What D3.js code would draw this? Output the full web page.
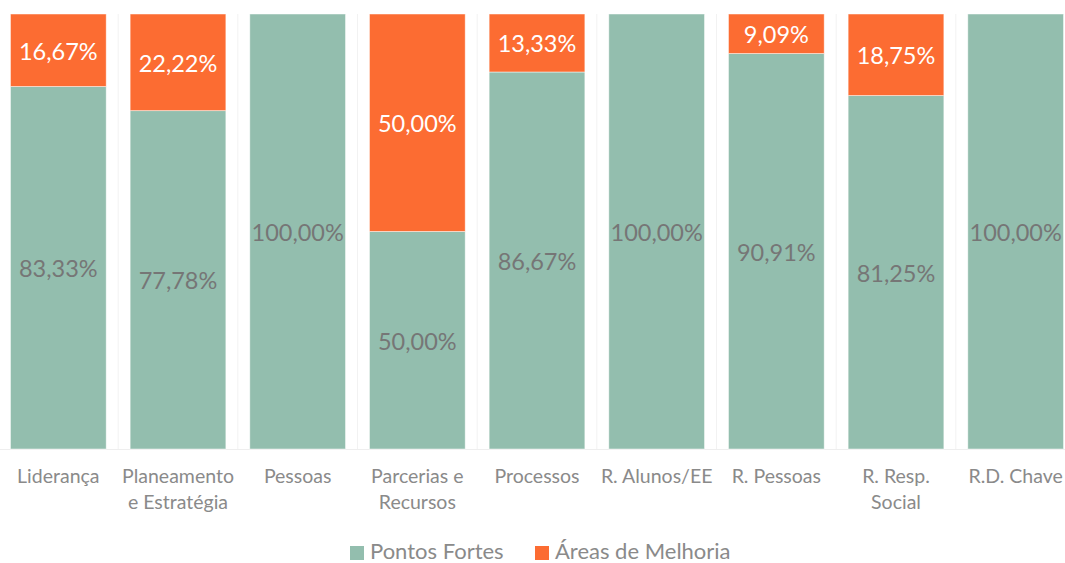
<!DOCTYPE html>
<html><head><meta charset="utf-8">
<script src="https://cdn.jsdelivr.net/npm/d3@7"></script>
<style>body{margin:0;background:#fff}svg{display:block}</style>
</head><body>
<svg id="c" width="1065" height="563"></svg>
<script>
const categories = [["Liderança"],["Planeamento","e Estratégia"],["Pessoas"],["Parcerias e","Recursos"],["Processos"],["R. Alunos/EE"],["R. Pessoas"],["R. Resp.","Social"],["R.D. Chave"]];
const pontosFortes = [83.33, 77.78, 100.00, 50.00, 86.67, 100.00, 90.91, 81.25, 100.00];
const areasMelhoria = [16.67, 22.22, 0, 50.00, 13.33, 0, 9.09, 18.75, 0];
const seriesNames = ["Pontos Fortes", "Áreas de Melhoria"];
const colors = ["#93BEAE", "#FC6C32"];
const labelColors = ["#767676", "#ffffff"];

const svg = d3.select("#c");
const font = "Lato, 'Open Sans', sans-serif";
const x = d3.scaleBand().domain(d3.range(categories.length)).range([-1.5, 1075.5]).paddingInner(0.2).paddingOuter(0.1);
const y = d3.scaleLinear().domain([0, 100]).range([449, 14]);

// faint separators
const step = x.step();
svg.append("g").selectAll("line").data(d3.range(1, categories.length)).join("line")
  .attr("x1", i => x(i) - step*0.1).attr("x2", i => x(i) - step*0.1)
  .attr("y1", 14).attr("y2", 449).attr("stroke", "#f2f2f2").attr("stroke-width", 1);
svg.append("line").attr("x1", 0).attr("x2", 1065).attr("y1", 449.5).attr("y2", 449.5).attr("stroke", "#eeeeee");

const stacked = categories.map((c, i) => [
  {s: 0, y0: 0, y1: pontosFortes[i], v: pontosFortes[i], i},
  {s: 1, y0: pontosFortes[i], y1: pontosFortes[i] + areasMelhoria[i], v: areasMelhoria[i], i}
]).flat().filter(d => d.v > 0);

const g = svg.append("g");
g.selectAll("rect").data(stacked).join("rect")
  .attr("x", d => x(d.i)).attr("width", x.bandwidth())
  .attr("y", d => y(d.y1)).attr("height", d => y(d.y0) - y(d.y1))
  .attr("fill", d => colors[d.s]).attr("stroke", "#ffffff").attr("stroke-opacity", 0.6).attr("stroke-width", 0.8);

const fmt = v => v.toFixed(2).replace(".", ",") + "%";
g.selectAll("text").data(stacked).join("text")
  .attr("x", d => x(d.i) + x.bandwidth()/2)
  .attr("y", d => (y(d.y0) + y(d.y1))/2)
  .attr("dy", "0.4em").attr("text-anchor", "middle")
  .attr("font-family", font).attr("font-size", 23.5)
  .attr("fill", d => labelColors[d.s]).text(d => fmt(d.v));

// axis labels
const ax = svg.append("g");
categories.forEach((lines, i) => {
  const t = ax.append("text").attr("text-anchor", "middle")
    .attr("font-family", font).attr("font-size", 19.5).attr("fill", "#8a8a8a");
  lines.forEach((l, k) => t.append("tspan").attr("x", x(i) + x.bandwidth()/2).attr("y", 483 + k*25.5).text(l));
});

// legend
const leg = svg.append("g");
const legX = [350, 535];
seriesNames.forEach((n, i) => {
  leg.append("rect").attr("x", legX[i]).attr("y", 546).attr("width", 14).attr("height", 14).attr("fill", colors[i]);
  leg.append("text").attr("x", legX[i] + 20).attr("y", 558.5).attr("font-family", font).attr("font-size", 22)
    .attr("fill", "#8a8a8a").text(n);
});
</script>
</body></html>
